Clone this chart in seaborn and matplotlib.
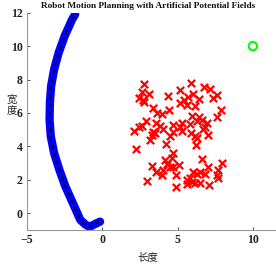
import matplotlib
matplotlib.use("Agg")
import matplotlib.pyplot as plt
import seaborn as sns
import pandas as pd

# Robot path (x, y)
path_x = [-0.15, -0.5, -0.85, -1.15, -1.46, -1.95, -2.45, -2.85, -3.2, -3.42, -3.5, -3.48, -3.4, -3.2, -2.9, -2.5, -2.0, -1.8]
path_y = [-0.5, -0.65, -0.82, -0.65, -0.4, 0.6, 1.6, 2.6, 3.6, 4.6, 5.6, 6.6, 7.6, 8.6, 9.6, 10.6, 11.6, 11.9]

# Obstacles
obs_x = [2.80, 5.87, 2.63, 3.13, 2.41, 2.69, 2.74, 4.35, 5.17, 6.75, 7.15, 7.64, 7.33, 6.00, 5.72,
         6.45, 5.45, 5.17, 5.61, 6.16, 3.40, 4.44, 3.62, 3.95, 7.88, 7.59, 2.91, 2.63, 2.47, 2.12,
         3.58, 3.80, 5.94, 6.45, 6.60, 6.27, 6.98, 5.83, 6.82, 6.67, 7.00, 4.72, 5.28, 5.17, 5.28,
         4.02, 4.72, 3.40, 3.29, 3.51, 3.18, 4.50, 5.87, 6.16, 6.27, 6.23, 4.24, 2.25, 4.72, 4.61,
         4.17, 4.33, 4.50, 4.72, 3.29, 3.58, 3.95, 4.02, 5.12, 4.90, 6.60, 7.93, 7.04, 7.70, 7.59,
         7.70, 6.49, 6.05, 6.31, 6.82, 5.83, 5.61, 5.94, 6.16, 5.61, 6.49, 7.11, 3.00, 4.90]
obs_y = [7.74, 7.78, 7.23, 7.15, 6.89, 6.75, 6.65, 7.03, 7.39, 7.54, 7.43, 7.09, 6.89, 7.15, 6.95,
         6.83, 6.79, 6.59, 6.49, 6.43, 6.29, 6.19, 5.99, 5.95, 6.15, 5.75, 5.55, 5.25, 5.15, 4.95,
         5.43, 5.23, 5.83, 5.75, 5.59, 5.55, 5.43, 5.35, 5.19, 5.03, 4.69, 5.29, 5.43, 5.19, 4.95,
         5.03, 4.89, 4.89, 4.69, 4.79, 4.39, 4.63, 4.79, 4.63, 4.49, 4.09, 4.15, 3.83, 3.63, 3.29,
         3.19, 2.95, 2.79, 2.75, 2.83, 2.49, 2.30, 2.59, 2.89, 2.30, 3.25, 3.03, 2.79, 2.59, 2.30,
         2.10, 2.49, 2.44, 2.36, 2.36, 2.10, 2.00, 1.90, 1.84, 1.76, 1.84, 1.70, 1.94, 1.56]

goal_x = [10]
goal_y = [10]

x_ticks = [-5, 0, 5, 10]
y_ticks = [0, 2, 4, 6, 8, 10, 12]

sns.set_theme(style="white")
plt.rcParams['font.family'] = ['Liberation Serif', 'Noto Sans CJK SC', 'DejaVu Sans']

fig = plt.figure(figsize=(2.76, 2.68), dpi=100)
W, H = 276, 268
ax = fig.add_axes([27 / W, (H - 230) / H, (283 - 27) / W, (230 - 12.7) / H])

path_df = pd.DataFrame({"x": path_x, "y": path_y})
sns.lineplot(data=path_df, x="x", y="y", sort=False, estimator=None, ax=ax, color="#0000ff",
             linewidth=6.0, zorder=2)
for ln in ax.lines:
    ln.set_solid_capstyle("round")
    ln.set_solid_joinstyle("round")
ax.plot(path_x, path_y, color="black", linewidth=1.2, linestyle="--",
        dashes=(2.5, 2.5), zorder=10)

obs_df = pd.DataFrame({"x": obs_x, "y": obs_y})
sns.scatterplot(data=obs_df, x="x", y="y", ax=ax, marker="x", color="red",
                s=28, linewidth=1.6, zorder=4)

goal_df = pd.DataFrame({"x": goal_x, "y": goal_y})
sns.scatterplot(data=goal_df, x="x", y="y", ax=ax, marker="o", s=36,
                facecolor="none", edgecolor="#00ff00", linewidth=1.5, zorder=4)

ax.set_xlim(-5, 12)
ax.set_ylim(-1, 12)
ax.set_xticks(x_ticks)
ax.set_yticks(y_ticks)
ax.tick_params(direction="in", length=2.5, width=0.6, colors="#333333",
               labelsize=8.5, pad=3, left=True, bottom=True)
for lab in ax.get_xticklabels() + ax.get_yticklabels():
    lab.set_fontweight("bold")
    lab.set_color("#222222")
for s in ["top", "right"]:
    ax.spines[s].set_visible(False)
for s in ["left", "bottom"]:
    ax.spines[s].set_color("#999999")
    ax.spines[s].set_linewidth(0.8)

ax.set_xlabel("")
ax.set_ylabel("")
fig.text(148 / W, 1 - 257 / H, "长度", ha="center", va="center", fontsize=7.5,
         family=['Noto Sans CJK SC', 'DejaVu Sans'], color="#222222")
fig.text(12 / W, 1 - 106 / H, "宽\n度", ha="center", va="center", fontsize=7.5,
         family=['Noto Sans CJK SC', 'DejaVu Sans'], color="#222222", linespacing=1.0)
fig.text(148 / W, 1 - 6 / H, "Robot Motion Planning with Artificial Potential Fields",
         ha="center", va="center", fontsize=6.7, fontweight="bold", color="#111111")

fig.savefig("out.png", dpi=100)
